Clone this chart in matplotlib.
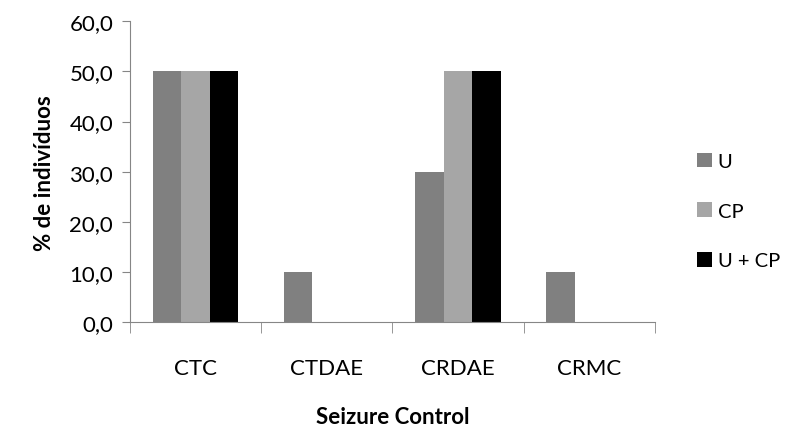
import numpy as np
import matplotlib
matplotlib.use('Agg')
from matplotlib import pyplot as plt

# Chart data
categories = ['CTC', 'CTDAE', 'CRDAE', 'CRMC']
series_names = ['U', 'CP', 'U + CP']
u_values = [50.0, 10.0, 30.0, 10.0]
cp_values = [50.0, 0.0, 50.0, 0.0]
ucp_values = [50.0, 0.0, 50.0, 0.0]
colors = ['#808080', '#a6a6a6', '#000000']

plt.rcParams['font.family'] = ['Lato', 'DejaVu Sans']
fs = 16

fig = plt.figure(figsize=(7.87, 4.27), dpi=100)
ax = fig.add_axes([0.165, 0.243, 0.667, 0.705])

x = np.arange(len(categories))
width = 0.217
for i, (vals, name, c) in enumerate(zip([u_values, cp_values, ucp_values], series_names, colors)):
    ax.bar(x + (i - 1) * width, vals, width, color=c, label=name)

ax.set_xlim(-0.5, len(categories) - 0.5)
ax.set_ylim(0, 60)
ax.set_yticks(np.arange(0, 61, 10))
ax.set_yticklabels([f'{v:.1f}'.replace('.', ',') for v in np.arange(0, 61, 10)], fontsize=fs)

# category labels centred, ticks on the boundaries
ax.set_xticks(x)
ax.set_xticklabels(categories, fontsize=fs)
ax.tick_params(axis='x', length=0, pad=26)
ax.set_xticks(np.arange(-0.5, len(categories)), minor=True)
ax.tick_params(axis='x', which='minor', length=8, color='#868686')
ax.tick_params(axis='y', length=6, color='#868686', pad=6)

for s in ['top', 'right']:
    ax.spines[s].set_visible(False)
for s in ['left', 'bottom']:
    ax.spines[s].set_color('#868686')

ax.set_ylabel('% de indivíduos', fontsize=fs, fontweight='bold', labelpad=10)
ax.set_xlabel('Seizure Control', fontsize=fs, fontweight='bold', labelpad=20)

ax.legend(loc='center left', bbox_to_anchor=(1.045, 0.37), frameon=False, fontsize=14.5,
          handlelength=0.75, handleheight=0.75, handletextpad=0.3, labelspacing=1.6)

fig.savefig('out.png', dpi=100)
